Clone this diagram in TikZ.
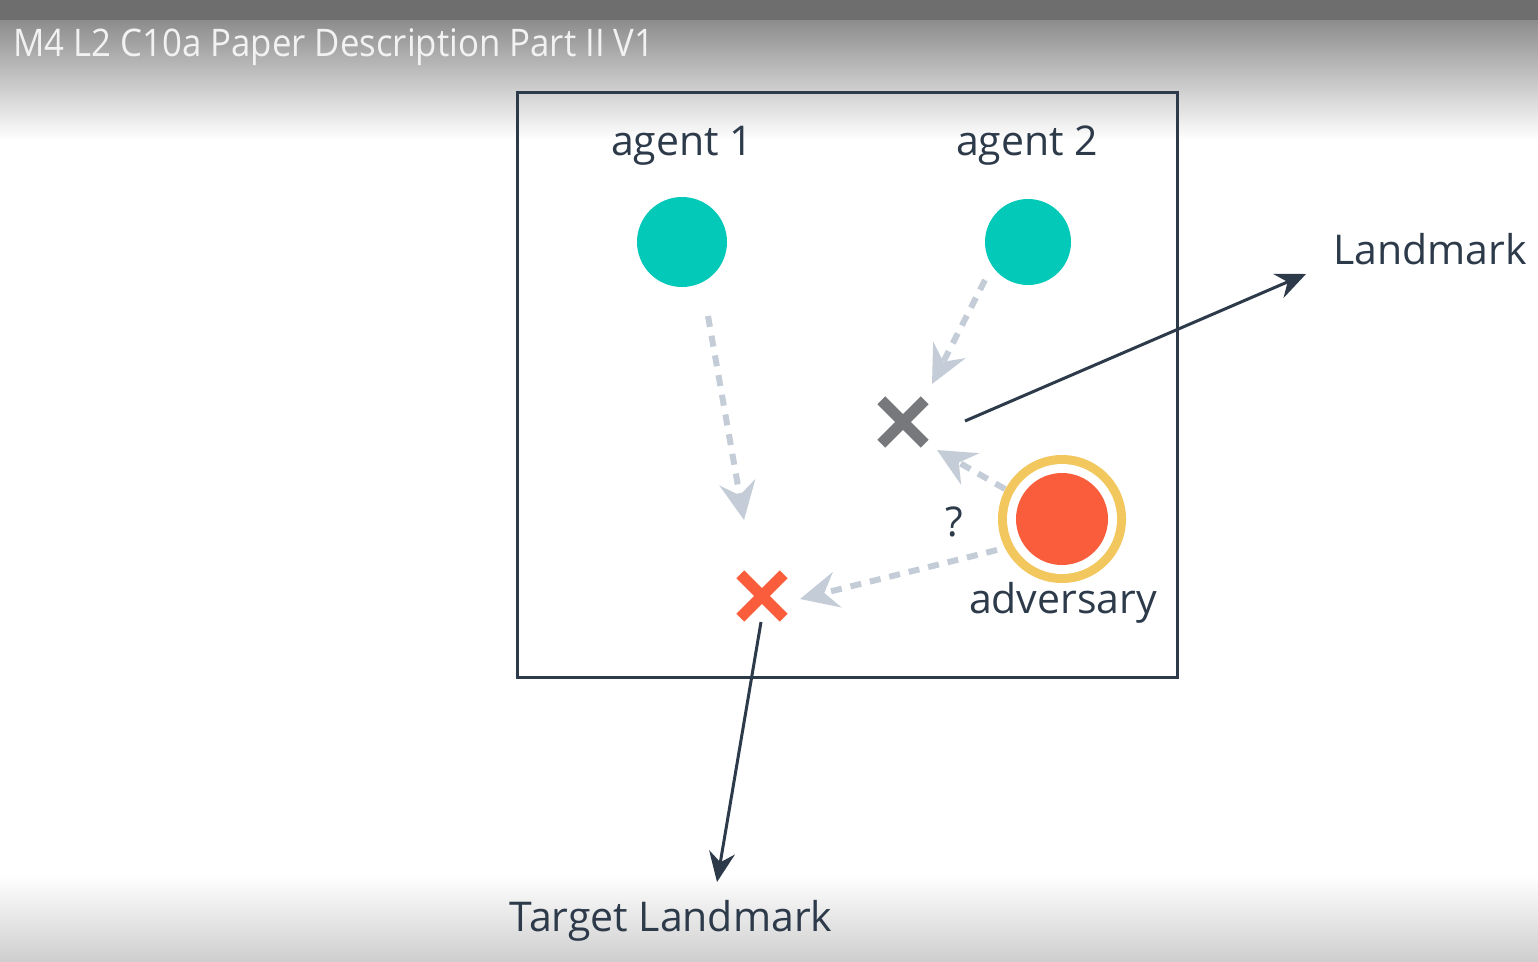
\documentclass[tikz,border=0pt]{standalone}
\usepackage{fontspec}
\setmainfont{Open Sans}
\newfontfamily\titlefont{Open Sans}
\usetikzlibrary{arrows.meta}
\definecolor{dark}{HTML}{2C3A4A}
\definecolor{teal}{HTML}{02C9B8}
\definecolor{dashc}{HTML}{C4CDD7}
\definecolor{xgray}{HTML}{76787B}
\definecolor{xred}{HTML}{F95D3C}
\definecolor{ring}{HTML}{F2C85E}
\tikzset{
  lbl/.style={font=\fontsize{41}{49}\selectfont, text=dark, inner sep=0pt},
  dasharrow/.style={dashc, line width=6pt, dash pattern=on 11pt off 9pt,
    -{Stealth[length=38pt, width=36pt, inset=13pt]}},
  darkarrow/.style={dark, line width=3pt,
    -{Stealth[length=30pt, width=26pt, inset=10pt]}},
  xmark/.style={line width=11pt},
}
\begin{document}
\begin{tikzpicture}[x=1pt,y=-1pt]
\useasboundingbox (0,0) rectangle (1538,961);
\fill[white] (0,0) rectangle (1538,961);
\shade[top color=white, bottom color=black!19] (0,875) rectangle (1538,961);
\shade[top color=black!45, bottom color=white] (0,20) rectangle (1538,140);
\fill[black!57] (0,0) rectangle (1538,20);
\node[anchor=west, inner sep=0pt, text=black!5] (title) at (13,47) {\scalebox{0.915}[1]{\titlefont\fontsize{38}{44}\selectfont M4 L2 C10a Paper Description Part II V1}};

\draw[dark, line width=3pt] (517,92) rectangle (1177,677);
\node[lbl] (a1l) at (682,146) {agent 1};
\node[lbl] (a2l) at (1027,146) {agent 2};
\fill[teal] (682,242) circle (45) node (a1) {};
\fill[teal] (1028,242) circle (43) node (a2) {};

\coordinate (a1s) at (708,316);
\coordinate (a1e) at (744,520);
\coordinate (a2s) at (985,280);
\coordinate (a2e) at (932,384);
\coordinate (ads1) at (1005,489);
\coordinate (ade1) at (937,450);
\coordinate (ads2) at (997,550);
\coordinate (ade2) at (800,599);
\draw[dasharrow] (a1s) -- (a1e);
\draw[dasharrow] (a2s) -- (a2e);
\draw[dasharrow] (ads1) -- (ade1);
\draw[dasharrow] (ads2) -- (ade2);

\node[inner sep=0pt, minimum size=43pt] (lm) at (903,422) {};
\draw[xgray, xmark] (lm.north west) -- (lm.south east) (lm.north east) -- (lm.south west);
\node[inner sep=0pt, minimum size=43pt] (tlm) at (762,596) {};
\draw[xred, xmark] (tlm.north west) -- (tlm.south east) (tlm.north east) -- (tlm.south west);

\fill[ring] (1062,519) circle (64);
\fill[white] (1062,519) circle (55);
\fill[xred] (1062,519) circle (46);
\node (adv) at (1062,519) {};
\node[lbl] (advl) at (1063,603) {adversary};
\node[lbl] (q) at (954,522) {?};

\node[lbl] (lml) at (1430,249) {Landmark};
\node[lbl] (tlml) at (671,921) {Target Landmark};
\coordinate (lms) at (965,421);
\coordinate (lme) at (1306,274);
\coordinate (tls) at (761,622);
\coordinate (tle) at (717,882);
\draw[darkarrow] (lms) -- (lme);
\draw[darkarrow] (tls) -- (tle);
\end{tikzpicture}
\end{document}
